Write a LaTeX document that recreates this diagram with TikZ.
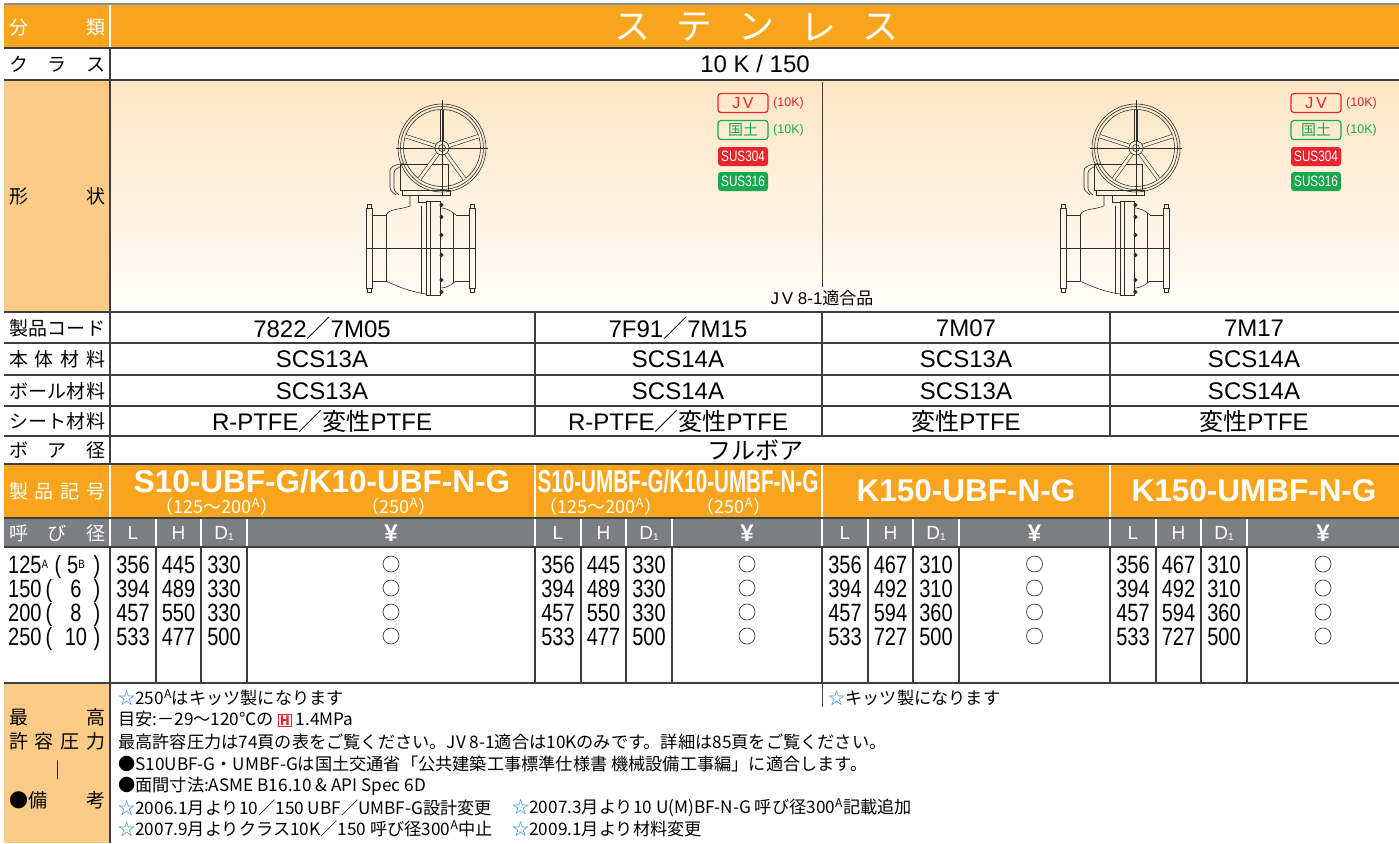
\documentclass[tikz,border=0pt]{standalone}
\usepackage{fontspec}
\usepackage{graphicx}
\setmainfont{Liberation Sans}
\newfontfamily\jp{Noto Sans CJK JP}
\newfontfamily\narrow[FakeStretch=0.8]{Liberation Sans}
\definecolor{hdorange}{RGB}{248,165,29}
\definecolor{lborange}{RGB}{252,203,136}
\definecolor{hdgray}{RGB}{125,126,130}
\definecolor{rulegray}{RGB}{62,62,62}
\definecolor{inkgray}{RGB}{45,45,45}
\definecolor{shadetop}{RGB}{253,230,196}
\definecolor{shadebot}{RGB}{255,253,250}
\definecolor{spokefill}{RGB}{254,238,214}
\definecolor{jvred}{RGB}{232,36,44}
\definecolor{kgreen}{RGB}{24,168,80}
\definecolor{starblue}{RGB}{50,140,215}
\newcommand\lblspread[1]{\makebox[96pt][l]{#1}}
\newcommand\starmark{{\color{starblue}☆}}
\newcommand\smallsup[1]{\raisebox{5pt}{\fontsize{12}{12}\selectfont #1}}
\tikzset{
  rowrule/.style={line width=1.5pt, draw=rulegray},
  colrule/.style={line width=1.1pt, draw=rulegray},
  whiterule/.style={line width=1.1pt, draw=white},
  lbl/.style={font=\jp\fontsize{19}{19}\selectfont, anchor=west},
  cell/.style={font=\fontsize{24}{24}\selectfont},
  num/.style={font=\narrow\fontsize{25}{25}\selectfont, anchor=base},
  head/.style={font=\fontsize{19}{19}\selectfont, text=white},
  prodmark/.style={font=\bfseries\fontsize{31.5}{31.5}\selectfont, text=white},
  sub/.style={font=\jp\fontsize{18}{18}\selectfont, text=white},
  badge/.style={rounded corners=3pt, minimum width=50pt, minimum height=19pt, line width=1.2pt},
  tenk/.style={font=\fontsize{12.5}{12.5}\selectfont, anchor=west},
  ok/.style={circle, draw=rulegray, line width=0.7pt, minimum size=16pt},
  note/.style={font=\jp\fontsize{17.2}{17.2}\selectfont, anchor=west},
  part/.style={line width=0.6pt, draw=inkgray},
  valve/.pic={
    % flanges
    \draw[part] (0,-40) rectangle (6,40) (103,-40) rectangle (109,40);
    \draw[part] (1,-44) rectangle (5,-40) (1,40) rectangle (5,44) (104,-44) rectangle (108,-40) (104,40) rectangle (108,44);
    \draw[part] (6,-33) -- (20,-33) (6,33) -- (20,33) (90,-33) -- (103,-33) (90,33) -- (103,33);
    % body
    \draw[part] (20,-33) .. controls (24,-40) and (34,-38) .. (44,-42) -- (44,-53);
    \draw[part] (52,-53) -- (52,-46) -- (60,-46);
    \draw[part] (20,33) .. controls (30,38) and (45,44) .. (60,46);
    \draw[part] (74,-40) .. controls (82,-40) and (86,-36) .. (90,-33);
    \draw[part] (74,40) .. controls (82,40) and (86,36) .. (90,33);
    \draw[part] (20,-33) -- (20,33) (87,-35) -- (87,35) (55,-42) -- (55,46);
    \draw[part] (60,-47) rectangle (74,47) (64,-47) -- (64,47);
    \foreach \b in {-43,-31,-13,7,32,44}
      \draw[part, fill=inkgray] (75.5,\b) circle (1.8pt);
    \draw[part, line width=0.4pt] (0,0) -- (109,0);
    % gear box
    \draw[part] (36,-58) rectangle (84,-53);
    \draw[part, rounded corners=3pt] (30,-53) -- (24,-58) -- (24,-80) -- (32,-84) -- (40,-84);
    \draw[part, rounded corners=3pt] (33,-53) -- (28,-57) -- (28,-78) -- (34,-81);
    \draw[part] (34,-84) rectangle (82,-58);
    % wheel
    \draw[part] (76,-100) circle (44pt) (76,-100) circle (41.5pt) (76,-100) circle (38.5pt);
    \foreach \a in {-90,-18,54,126,198}
      \draw[part, double=spokefill, double distance=2.8pt] (76,-100) ++(\a:7) -- ++(\a:31.5);
    \draw[part, fill=spokefill] (76,-100) circle (7pt);
    \draw[part] (76,-100) circle (3.5pt);
    \draw[part, line width=0.4pt] (30,-100) -- (122,-100) (76,-148) -- (76,-52);
  }
}
\begin{document}
\begin{tikzpicture}[x=1pt, y=-1pt, every node/.style={inner sep=0pt}]
\useasboundingbox (0,0) rectangle (1399,843);
\fill[white] (0,0) rectangle (1399,843);
% backgrounds
\fill[hdorange] (4,5) rectangle (1399,48);
\fill[lborange] (4,80) rectangle (110,312);
\shade[top color=shadetop, bottom color=shadebot] (110,80) rectangle (1399,312);
\fill[hdorange] (4,464) rectangle (1399,518);
\fill[hdgray] (4,518) rectangle (1399,547);
\fill[lborange] (4,683) rectangle (110,843);
% columns
\draw[whiterule] (110,5) -- (110,48) (110,464) -- (110,547);
\draw[colrule] (110,48) -- (110,464) (110,547) -- (110,843);
\foreach \x in {535,822,1110} {
  \draw[colrule] (\x,312) -- (\x,436) (\x,547) -- (\x,683);
  \draw[whiterule] (\x,464) -- (\x,547);
}
\foreach \x in {156,201,247,581,626,672,868,913,959,1156,1201,1247} {
  \draw[whiterule] (\x,518) -- (\x,547);
  \draw[colrule] (\x,547) -- (\x,683);
}
\draw[colrule, line width=0.8pt] (822,82) -- (822,287) (822,683) -- (822,707);
% rows
\draw[line width=1.5pt, draw=black!45] (4,4) -- (1399,4);
\foreach \y in {48,80,312,343,375,406,436,464,518,547,683}
  \draw[rowrule] (4,\y) -- (1399,\y);

% label column
\node[lbl, text=white] (lcat) at (9,27) {\lblspread{分\hfill 類}};
\node[lbl] (lcls) at (9,64) {\lblspread{ク\hfill ラ\hfill ス}};
\node[lbl] (lshp) at (9,196) {\lblspread{形\hfill 状}};
\node[lbl] (lcode) at (9,328) {\lblspread{製\hfill 品\hfill コ\hfill ー\hfill ド}};
\node[lbl] (lbody) at (9,359) {\lblspread{本\hfill 体\hfill 材\hfill 料}};
\node[lbl] (lball) at (9,391) {\lblspread{ボ\hfill ー\hfill ル\hfill 材\hfill 料}};
\node[lbl] (lseat) at (9,421) {\lblspread{シ\hfill ー\hfill ト\hfill 材\hfill 料}};
\node[lbl] (lbore) at (9,450) {\lblspread{ボ\hfill ア\hfill 径}};
\node[lbl, text=white] (lmark) at (9,491) {\lblspread{製\hfill 品\hfill 記\hfill 号}};
\node[lbl, text=white] (lsize) at (9,533) {\lblspread{呼\hfill び\hfill 径}};
\node[lbl] (lmax) at (9,717) {\lblspread{最\hfill 高}};
\node[lbl] (lpres) at (9,741) {\lblspread{許\hfill 容\hfill 圧\hfill 力}};
\node[lbl, anchor=center] (lbar) at (58,770) {｜};
\node[lbl] (lnote) at (9,800) {\lblspread{●備\hfill 考}};

% heading
\foreach \c [count=\i from 0] in {ス,テ,ン,レ,ス}
  \node[font=\jp\fontsize{36}{36}\selectfont, text=white] (st\i) at (632+62*\i,27) {\c};
\node[cell] (cls) at (755,64) {10 K / 150};

% shapes
\pic (vl) at (366,248) {valve};
\pic (vr) at (1060,248) {valve};
\foreach \bx [count=\i] in {743,1316} {
  \node[badge, draw=jvred, text=jvred, font=\fontsize{16}{16}\selectfont] (jv\i) at (\bx,103) {J\,V};
  \node[tenk, text=jvred] (jk\i) at (\bx+30,103) {(10K)};
  \node[badge, draw=kgreen, text=kgreen, font=\jp\fontsize{15}{15}\selectfont] (kd\i) at (\bx,130) {国土};
  \node[tenk, text=kgreen] (kk\i) at (\bx+30,130) {(10K)};
  \node[badge, fill=jvred, text=white, font=\fontsize{15}{15}\selectfont] (sa\i) at (\bx,156.5) {\scalebox{0.78}[1]{SUS304}};
  \node[badge, fill=kgreen, text=white, font=\fontsize{15}{15}\selectfont] (sb\i) at (\bx,181.5) {\scalebox{0.78}[1]{SUS316}};
}
\node[font=\fontsize{17}{17}\selectfont] (jvok) at (822,298) {J\,V 8-1{\jp 適合品}};

% codes and materials
\node[cell] (c1) at (322,328) {7822{\jp ／}7M05};
\node[cell] (c2) at (678,328) {7F91{\jp ／}7M15};
\node[cell] (c3) at (966,328) {7M07};
\node[cell] (c4) at (1254,328) {7M17};
\foreach \cx/\m/\s [count=\i] in {322/13A/{R-PTFE{\jp ／変性}PTFE}, 678/14A/{R-PTFE{\jp ／変性}PTFE}, 966/13A/{{\jp 変性}PTFE}, 1254/14A/{{\jp 変性}PTFE}} {
  \node[cell] (bd\i) at (\cx,359) {SCS\m};
  \node[cell] (bl\i) at (\cx,391) {SCS\m};
  \node[cell] (se\i) at (\cx,421) {\s};
}
\node[cell, font=\jp\fontsize{24}{24}\selectfont] (bore) at (755,450) {フルボア};

% product marks
\node[prodmark] (m1) at (322,481) {S10-UBF-G/K10-UBF-N-G};
\node[sub] (m1a) at (217,507) {（125〜200\textsuperscript{A}）};
\node[sub] (m1b) at (399,507) {（250\textsuperscript{A}）};
\node[prodmark] (m2) at (678,481) {\scalebox{0.655}[1]{S10-UMBF-G/K10-UMBF-N-G}};
\node[sub] (m2a) at (601,507) {（125〜200\textsuperscript{A}）};
\node[sub] (m2b) at (734,507) {（250\textsuperscript{A}）};
\node[prodmark] (m3) at (966,491) {K150-UBF-N-G};
\node[prodmark] (m4) at (1254,491) {K150-UMBF-N-G};

% size header
\foreach \gx/\gw [count=\g] in {110/425,535/287,822/288,1110/289} {
  \node[head] (hl\g) at (\gx+23,533) {L};
  \node[head] (hh\g) at (\gx+68.5,533) {H};
  \node[head] (hd\g) at (\gx+114,533) {D\raisebox{-1pt}{\fontsize{10}{10}\selectfont 1}};
  \node[head, font=\bfseries\fontsize{24}{24}\selectfont] (hy\g) at ({\gx+68.5+\gw/2},533) {¥};
}

% sizes
\foreach \r/\n/\px/\b in {1/125\smallsup{A}/58/5\smallsup{B}, 2/150/49/6, 3/200/49/8, 4/250/49/10} {
  \node[num, anchor=base west] (sz\r) at (8,549+24*\r) {\n};
  \node[num] (po\r) at (\px,549+24*\r) {(};
  \node[num] (sd\r) at (76,549+24*\r) {\b};
  \node[num] (pc\r) at (97,549+24*\r) {)};
}
\foreach \r/\l/\ha/\da/\hb/\db in {1/356/445/330/467/310, 2/394/489/330/492/310, 3/457/550/330/594/360, 4/533/477/500/727/500} {
  \foreach \gx/\gw/\h/\d [count=\g] in {110/425/\ha/\da, 535/287/\ha/\da, 822/288/\hb/\db, 1110/289/\hb/\db} {
    \node[num] (dl\g-\r) at (\gx+23,549+24*\r) {\l};
    \node[num] (dh\g-\r) at (\gx+68.5,549+24*\r) {\h};
    \node[num] (dd\g-\r) at (\gx+114,549+24*\r) {\d};
    \node[ok] (do\g-\r) at ({\gx+68.5+\gw/2},{540+24*\r}) {};
  }
}

% remarks
\node[note] (n1) at (118,698) {\starmark 250\textsuperscript{A}はキッツ製になります};
\node[note] (n1b) at (828,698) {\starmark キッツ製になります};
\node[note] (n2) at (118,719) {目安:－29〜120℃の {\setlength\fboxsep{1.2pt}\setlength\fboxrule{0.8pt}\fcolorbox{jvred}{white}{\color{jvred}\fontsize{13}{13}\selectfont\bfseries H}} 1.4MPa};
\node[note] (n3) at (118,742) {最高許容圧力は74頁の表をご覧ください。JV 8-1適合は10Kのみです。詳細は85頁をご覧ください。};
\node[note] (n4) at (118,764) {●S10UBF-G・UMBF-Gは国土交通省「公共建築工事標準仕様書 機械設備工事編」に適合します。};
\node[note] (n5) at (118,786) {●面間寸法:ASME B16.10 \& API Spec 6D};
\node[note] (n6) at (118,808) {\starmark 2006.1月より10／150 UBF／UMBF-G設計変更};
\node[note] (n6b) at (512,808) {\starmark 2007.3月より10 U(M)BF-N-G 呼び径300\textsuperscript{A}記載追加};
\node[note] (n7) at (118,829) {\starmark 2007.9月よりクラス10K／150 呼び径300\textsuperscript{A}中止};
\node[note] (n7b) at (512,829) {\starmark 2009.1月より材料変更};
\end{tikzpicture}
\end{document}
